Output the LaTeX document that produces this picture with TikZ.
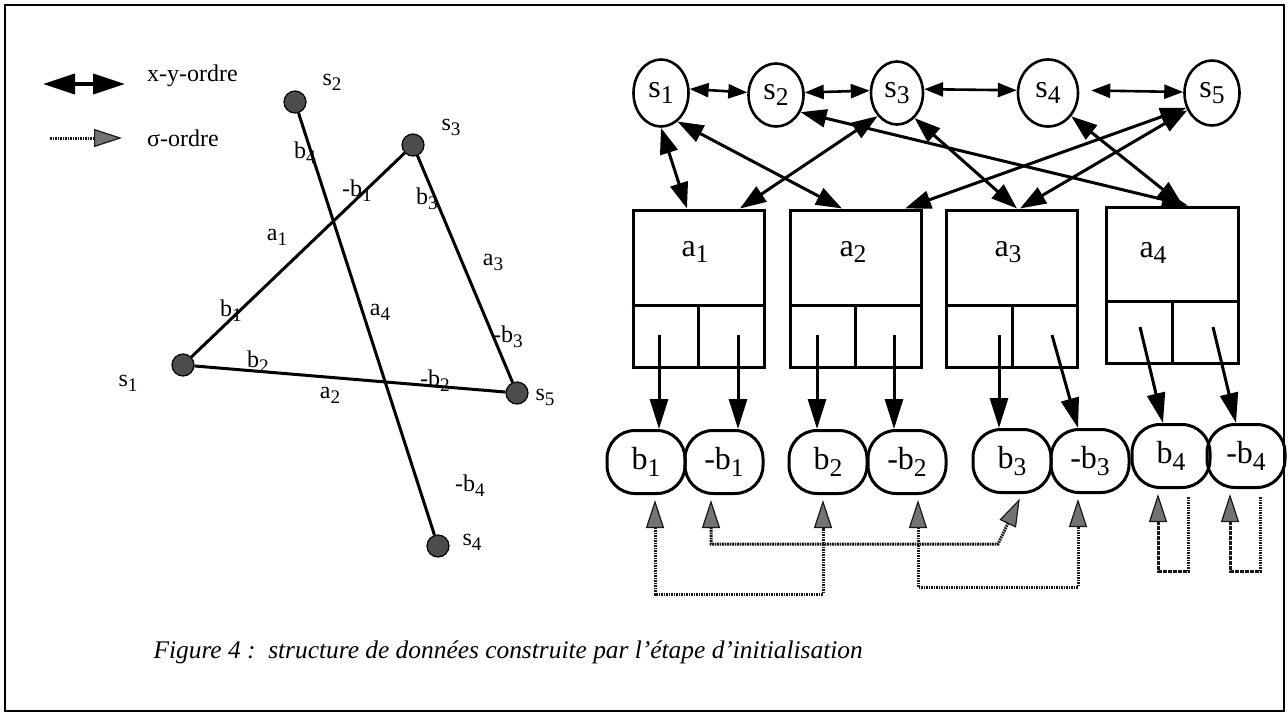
\documentclass[tikz,border=0pt]{standalone}
\usepackage{fontspec}
\setmainfont{Liberation Serif}
\usetikzlibrary{arrows.meta}
\usetikzlibrary{shapes.geometric}
\newcommand{\ix}[2]{#1\raisebox{-0.45ex}{\scalebox{0.8}{#2}}}
\tikzstyle{SmallT}=[font=\fontsize{24}{28}\selectfont,inner sep=1pt]
\tikzstyle{BigT}=[font=\fontsize{32}{36}\selectfont,inner sep=0pt]
\tikzstyle{Dot}=[circle,draw,line width=1.2pt,fill=black!70,minimum size=22pt,
inner sep=0pt]
\tikzstyle{Seg}=[line width=3pt]
\tikzstyle{Vtx}=[ellipse,draw,line width=2.6pt,BigT]
\tikzstyle{Box}=[rectangle,draw,line width=3pt,minimum width=131pt,
minimum height=157pt]
\tikzstyle{Leaf}=[rectangle,rounded corners=28pt,draw,line width=3pt,
minimum width=78pt,minimum height=63pt,BigT]
\tikzstyle{Link}=[line width=3pt,
arrows={Triangle[length=26pt,width=18pt]-Triangle[length=26pt,width=18pt]}]
\tikzstyle{HLink}=[line width=2.6pt,
arrows={Triangle[length=19pt,width=14pt]-Triangle[length=19pt,width=14pt]}]
\tikzstyle{LegXY}=[line width=3.5pt,
arrows={Triangle[length=32pt,width=20pt]-Triangle[length=32pt,width=20pt]}]
\tikzstyle{Ptr}=[line width=3pt,-{Triangle[length=30pt,width=18pt]}]
\tikzstyle{Sig}=[line width=3pt,black!90,dash pattern=on 1.6pt off 0.9pt,
arrows={Triangle[length=28pt,width=18pt,fill=black!55,line width=1.2pt]-Triangle[length=28pt,width=18pt,fill=black!55,line width=1.2pt]},
shorten <=5pt,shorten >=5pt]
\tikzstyle{SigOne}=[line width=3pt,black!90,dash pattern=on 1.6pt off 0.9pt,
-{Triangle[length=28pt,width=18pt,fill=black!55,line width=1.2pt]},
shorten <=8pt,shorten >=5pt]
\begin{document}
\begin{tikzpicture}[x=1pt,y=-1pt]
    \useasboundingbox (0,0) rectangle (1288,713);
    \draw[line width=2.6pt] (5,5) rectangle (1284,711);
    % legend
    \coordinate (k1) at (43,84);
    \coordinate (k2) at (125,84);
    \coordinate (k3) at (50,138);
    \coordinate (k4) at (122,138);
    \draw[LegXY] (k1) -- (k2);
    \draw[SigOne,shorten <=0pt,shorten >=0pt] (k3) -- (k4);
    \node[SmallT,anchor=west](tk1)at(146,76){x-y-ordre};
    \node[SmallT,anchor=west](tk2)at(146,138){σ-ordre};
    % segments
    \node[Dot](v1)at(183,365){};
    \node[Dot](v2)at(295,102){};
    \node[Dot](v3)at(413,145){};
    \node[Dot](v4)at(438,546){};
    \node[Dot](v5)at(517,393){};
    \draw[Seg](v2)--(v4);
    \draw[Seg](v1)--(v3);
    \draw[Seg](v3)--(v5);
    \draw[Seg](v1)--(v5);
    \node[SmallT](tv1)at(128,383){\ix{s}{1}};
    \node[SmallT](tv2)at(332,82){\ix{s}{2}};
    \node[SmallT](tv3)at(451,127){\ix{s}{3}};
    \node[SmallT](tv4)at(472,542){\ix{s}{4}};
    \node[SmallT](tv5)at(545,397){\ix{s}{5}};
    \node[SmallT](e1)at(305,153){\ix{b}{4}};
    \node[SmallT](e2)at(357,191){-\ix{b}{1}};
    \node[SmallT](e3)at(277,237){\ix{a}{1}};
    \node[SmallT](e4)at(231,311){\ix{b}{1}};
    \node[SmallT](e5)at(380,312){\ix{a}{4}};
    \node[SmallT](e6)at(427,199){\ix{b}{3}};
    \node[SmallT](e7)at(493,262){\ix{a}{3}};
    \node[SmallT](e8)at(508,337){-\ix{b}{3}};
    \node[SmallT](e9)at(258,362){\ix{b}{2}};
    \node[SmallT](e10)at(330,395){\ix{a}{2}};
    \node[SmallT](e11)at(435,381){-\ix{b}{2}};
    \node[SmallT](e12)at(470,486){-\ix{b}{4}};
    % structure
    \node[Vtx,minimum width=55pt,minimum height=67pt](s1)at(661,93)
        {\raisebox{6pt}{\ix{s}{1}}};
    \node[Vtx,minimum width=55pt,minimum height=63pt](s2)at(776,95)
        {\raisebox{6pt}{\ix{s}{2}}};
    \node[Vtx,minimum width=52pt,minimum height=63pt](s3)at(897,93)
        {\raisebox{6pt}{\ix{s}{3}}};
    \node[Vtx,minimum width=60pt,minimum height=67pt](s4)at(1048,93)
        {\raisebox{6pt}{\ix{s}{4}}};
    \node[Vtx,minimum width=55pt,minimum height=65pt](s5)at(1212,93)
        {\raisebox{6pt}{\ix{s}{5}}};
    \node[Box](a1)at(698.5,288.5){};
    \node[Box](a2)at(855.5,288.5){};
    \node[Box](a3)at(1012,288.5){};
    \node[Box,minimum width=132pt,minimum height=156pt](a4)at(1172,285){};
    \foreach \b in {a1,a2,a3,a4}{
        \draw[Seg]([yshift=63pt]\b.south west)--([yshift=63pt]\b.south east);
        \draw[Seg](\b.south)--([yshift=63pt]\b.south);
    }
    \node[BigT](ta1)at(695,252){\ix{a}{1}};
    \node[BigT](ta2)at(853,252){\ix{a}{2}};
    \node[BigT](ta3)at(1008,252){\ix{a}{3}};
    \node[BigT](ta4)at(1153,253){\ix{a}{4}};
    \node[Leaf](b1)at(646,462){\ix{b}{1}};
    \node[Leaf](nb1)at(724,462){-\ix{b}{1}};
    \node[Leaf](b2)at(828,462){\ix{b}{2}};
    \node[Leaf](nb2)at(907,462){-\ix{b}{2}};
    \node[Leaf](b3)at(1012,461){\ix{b}{3}};
    \node[Leaf](nb3)at(1090,461){-\ix{b}{3}};
    \node[Leaf](b4)at(1171,456){\ix{b}{4}};
    \node[Leaf](nb4)at(1246,456){-\ix{b}{4}};
    % x-y-ordre
    \draw[HLink](s1.8)--(s2.175);
    \draw[HLink](s2.5)--(s3.175);
    \draw[HLink](s3.8)--(s4.175);
    \draw[HLink,shorten <=12pt](s4.5)--(s5.178);
    \draw[Link](s1.south)--([xshift=-11.5pt]a1.north);
    \draw[Link](s1.-60)--([xshift=-13.5pt]a2.north);
    \draw[Link](s3.-130)--([xshift=41.5pt]a1.north);
    \draw[Link](s2.-35)--([xshift=16pt]a4.north);
    \draw[Link](s3.-55)--([xshift=5pt]a3.north);
    \draw[Link](s5.-150)--([xshift=49.5pt]a2.north);
    \draw[Link](s5.-145)--([xshift=8pt]a3.north);
    \draw[Link](s4.-45)--([xshift=11pt]a4.north);
    % cells
    \coordinate(c1)at(659,335);
    \coordinate(c2)at(738,335);
    \coordinate(c3)at(817,335);
    \coordinate(c4)at(894,335);
    \coordinate(c5)at(999,335);
    \coordinate(c6)at(1052,335);
    \coordinate(c7)at(1140,327);
    \coordinate(c8)at(1213,327);
    \draw[Ptr](c1)--(c1 |- b1.north);
    \draw[Ptr](c2)--(c2 |- nb1.north);
    \draw[Ptr](c3)--(c3 |- b2.north);
    \draw[Ptr](c4)--(c4 |- nb2.north);
    \draw[Ptr](c5)--(c5 |- b3.north);
    \draw[Ptr](c6)--([xshift=-12pt]nb3.north);
    \draw[Ptr](c7)--([xshift=-8pt]b4.north);
    \draw[Ptr](c8)--([xshift=-10pt]nb4.north);
    % sigma-ordre
    \coordinate(f1)at([xshift=9pt]b1.south);
    \coordinate(f2)at([xshift=-5pt]b2.south);
    \coordinate(f3)at([xshift=-13pt]nb1.south);
    \coordinate(f4)at([xshift=10pt]b3.south);
    \coordinate(f5)at([xshift=11pt]nb2.south);
    \coordinate(f6)at([xshift=-12pt]nb3.south);
    \coordinate(g1)at([xshift=-13pt]b4.south);
    \coordinate(g2)at([xshift=17pt]b4.south);
    \coordinate(h1)at([xshift=-16pt]nb4.south);
    \coordinate(h2)at([xshift=14pt]nb4.south);
    \draw[Sig](f1)--++(0,99)-|(f2);
    \draw[Sig](f3)--++(0,49)--++(287,0)--(f4);
    \draw[Sig](f5)--++(0,92)-|(f6);
    \draw[SigOne](g2)--++(0,82)-|(g1);
    \draw[SigOne](h2)--++(0,82)-|(h1);
    % caption
    \node[anchor=west,font=\fontsize{25.4}{30}\selectfont\itshape](cap)at(150,652)
        {Figure 4 :\ \ structure de données construite par l’étape d’initialisation};
\end{tikzpicture}
\end{document}
